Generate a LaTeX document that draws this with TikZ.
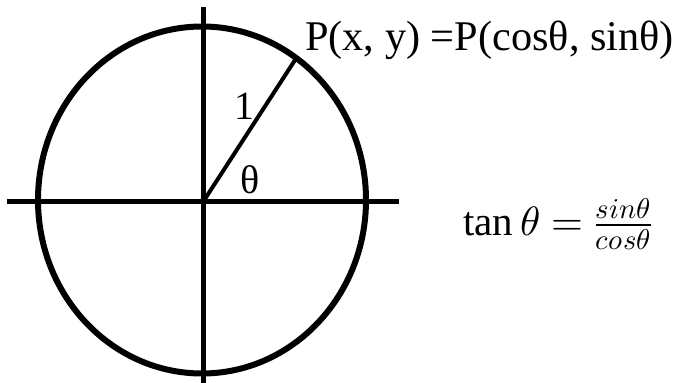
\documentclass[tikz,border=0pt]{standalone}
\usepackage{fontspec}
\usepackage{unicode-math}
\setmainfont{Liberation Serif}
\setmathfont{Latin Modern Math}
\begin{document}
\begin{tikzpicture}[x=1pt,y=-1pt,
  axisline/.style={line width=5pt},
  circline/.style={line width=6pt},
  radline/.style={line width=4pt},
  lbl/.style={inner sep=0pt, font=\fontsize{42.3}{46}\selectfont},
  smlbl/.style={inner sep=0pt, font=\fontsize{40}{44}\selectfont},
  mathlbl/.style={inner sep=0pt, font=\fontsize{41}{46}\selectfont}]
\useasboundingbox (0,0) rectangle (681,383);
\coordinate (ctr) at (202,200);
\coordinate (O) at (203.3,201.5);
\coordinate (xl) at (7,201.5);
\coordinate (xr) at (399,201.5);
\coordinate (yt) at (203.3,7);
\coordinate (yb) at (203.3,383);
\coordinate (P) at (296,58.5);
\draw[circline] (ctr) ellipse [x radius=164, y radius=173.5];
\draw[axisline] (xl) -- (xr);
\draw[axisline] (yt) -- (yb);
\draw[radline] (O) -- (P);
\node[lbl, anchor=base west] (ptxt) at (305,50) {P(x, y) =P(cosθ, sinθ)};
\node[smlbl, anchor=base] (one) at (244,119) {1};
\node[smlbl, anchor=base] (theta) at (250,193) {θ};
\node[mathlbl, anchor=base west] (tanf) at (463,235) {$\tan\theta=\frac{sin\theta}{cos\theta}$};
\end{tikzpicture}
\end{document}
